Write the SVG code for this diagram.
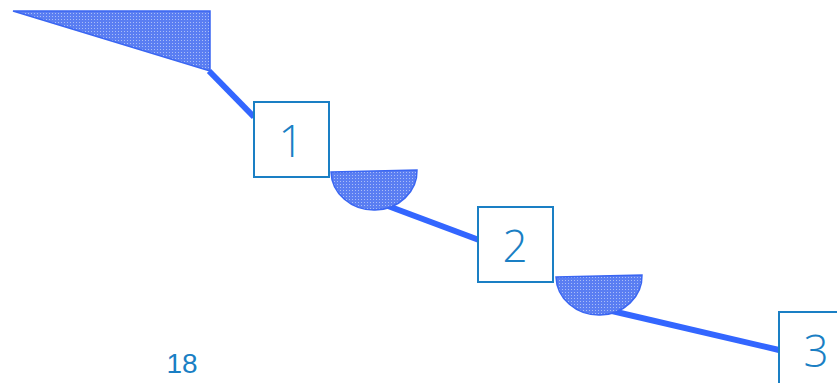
<svg xmlns="http://www.w3.org/2000/svg" width="837" height="383" viewBox="0 0 837 383">
  <defs>
    <pattern id="dots" x="0" y="0" width="3" height="3" patternUnits="userSpaceOnUse">
      <rect width="3" height="3" fill="#5a7ef2"/>
      <rect x="1" y="1" width="1" height="1" fill="#a9bdf7"/>
    </pattern>
    <style>
      .shape { fill: url(#dots); stroke: #3a66f2; stroke-width: 1.5; }
      .conn { stroke: #3366ff; stroke-width: 6; fill: none; stroke-linecap: butt; }
      .box { fill: #ffffff; stroke: #1a7fc4; stroke-width: 2; }
      .num { fill: #1a7fc4; font-family: "Open Sans", "Liberation Sans", sans-serif; font-weight: 300; font-size: 44px; text-anchor: middle; }
      .page { fill: #1a7fc4; font-family: "Liberation Sans", Arial, sans-serif; font-size: 28px; text-anchor: middle; }
    </style>
  </defs>
  <g id="connectors">
    <line class="conn" x1="209" y1="71" x2="254" y2="117"/>
    <line class="conn" x1="388" y1="206" x2="479" y2="240"/>
    <line class="conn" x1="612" y1="311" x2="779" y2="350"/>
  </g>
  <g id="triangle">
    <polygon class="shape" points="13,11 210,11 210,71"/>
  </g>
  <g id="bowl1">
    <path class="shape" d="M331,172 L417,170 A43,39 0 0 1 331,172 Z" transform="rotate(0)"/>
  </g>
  <g id="bowl2">
    <path class="shape" d="M556,277 L642,275 A43,39 0 0 1 556,277 Z"/>
  </g>
  <g id="node1">
    <rect class="box" x="254" y="102" width="75" height="75"/>
    <text class="num" x="291" y="157">1</text>
  </g>
  <g id="node2">
    <rect class="box" x="478" y="207" width="75" height="75"/>
    <text class="num" x="515" y="262">2</text>
  </g>
  <g id="node3">
    <rect class="box" x="779" y="312" width="75" height="75"/>
    <text class="num" x="816" y="367">3</text>
  </g>
  <g id="page">
    <text class="page" x="182" y="373">18</text>
  </g>
</svg>
